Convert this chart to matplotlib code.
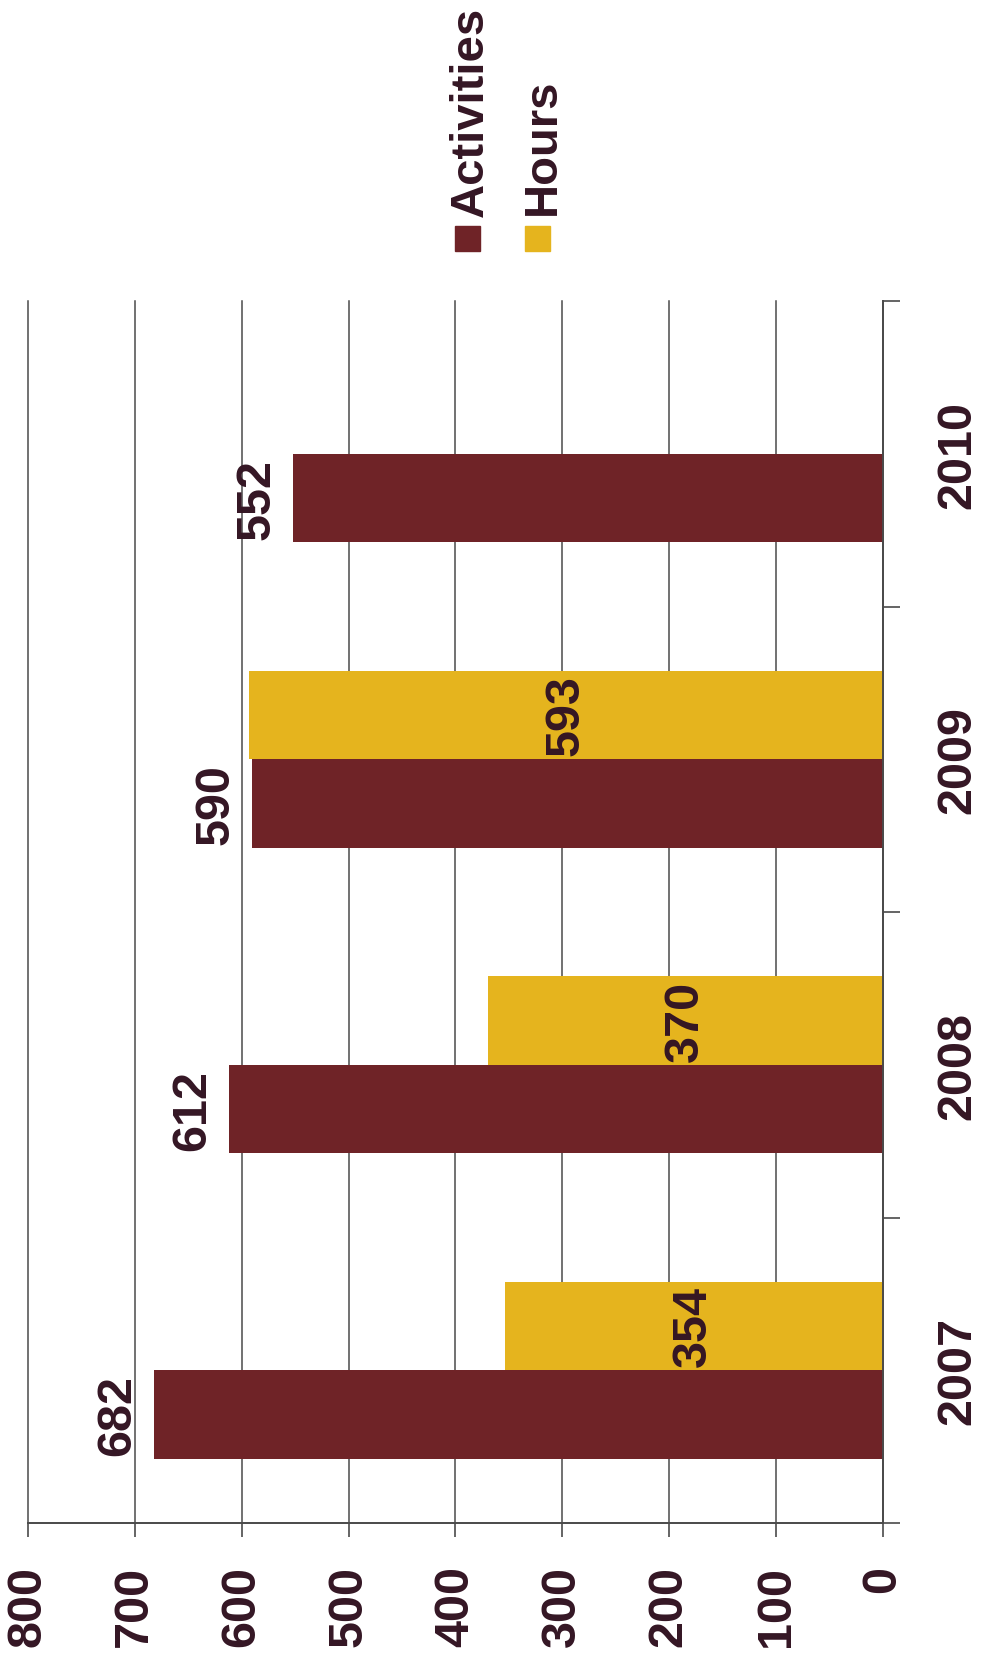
import numpy as np
import matplotlib
matplotlib.use("Agg")
import matplotlib.pyplot as plt
from matplotlib.patches import Rectangle

plt.rcParams['font.family'] = ['Liberation Sans', 'DejaVu Sans']

years = ['2007', '2008', '2009', '2010']
activities = [682, 612, 590, 552]
hours = [354, 370, 593, None]
value_ticks = [0, 100, 200, 300, 400, 500, 600, 700, 800]

MAROON = '#6f2327'
YELLOW = '#e5b41e'
TXT = '#341624'
LINE = '#4a4a4a'

W, H = 982, 1656
fig = plt.figure(figsize=(W / 100, H / 100), dpi=100)
fig.patch.set_facecolor('white')
ax = fig.add_axes([28 / W, 1 - 1524 / H, 855 / W, 1222 / H])

y = np.arange(len(years))
bh = 0.29
ax.barh(y - bh / 2, activities, height=bh, color=MAROON, zorder=2)
hy = [i for i, h in enumerate(hours) if h is not None]
hv = [hours[i] for i in hy]
ax.barh(np.array(hy) + bh / 2, hv, height=bh, color=YELLOW, zorder=2)

ax.set_xlim(800, 0)
ax.set_ylim(-0.5, 3.5)

ax.set_xticks(value_ticks)
ax.set_xticklabels([str(v) for v in value_ticks], rotation=90,
                   fontsize=35, fontweight='bold', color=TXT)
ax.tick_params(axis='x', direction='out', length=10, width=1.2, pad=20, color=LINE)

ax.yaxis.tick_right()
ax.set_yticks([-0.5, 0.5, 1.5, 2.5, 3.5])
ax.set_yticklabels([])
ax.set_yticks(y, minor=True)
ax.set_yticklabels(years, minor=True, rotation=90, fontsize=35,
                   fontweight='bold', color=TXT)
for lab in ax.get_yticklabels(minor=True):
    lab.set_va('center')
ax.tick_params(axis='y', which='major', direction='out', length=12, width=1.2, color=LINE)
ax.tick_params(axis='y', which='minor', length=0, pad=38)

ax.grid(axis='x', color=LINE, linewidth=1.1, zorder=0)
ax.set_axisbelow(True)
for gl in ax.xaxis.get_gridlines():
    gl.set_clip_on(False)

for side in ['top', 'left']:
    ax.spines[side].set_visible(False)
for side in ['bottom', 'right']:
    ax.spines[side].set_color(LINE)
    ax.spines[side].set_linewidth(1.4)

for i, v in enumerate(activities):
    ax.annotate(str(v), xy=(v, i - bh / 2), xytext=(-10, 0),
                textcoords='offset points', rotation=90, ha='right', va='center',
                fontsize=35, fontweight='bold', color=TXT, zorder=3)
for i, h in zip(hy, hv):
    ax.text(h / 2, i + bh / 2, str(h), rotation=90, ha='center', va='center',
            fontsize=35, fontweight='bold', color=TXT, zorder=3)

# legend
fig.add_artist(Rectangle((455 / W, 1 - 252 / H), 25 / W, 25 / H,
                         transform=fig.transFigure, color=MAROON))
fig.add_artist(Rectangle((525 / W, 1 - 252 / H), 25 / W, 25 / H,
                         transform=fig.transFigure, color=YELLOW))
fig.text(483 / W, 1 - 217 / H, 'Activities', rotation=90, rotation_mode='anchor',
         ha='left', va='baseline', fontsize=34, fontweight='bold', color=TXT)
fig.text(555 / W, 1 - 215 / H, 'Hours', rotation=90, rotation_mode='anchor',
         ha='left', va='baseline', fontsize=34, fontweight='bold', color=TXT)

fig.savefig('out.png', dpi=100, facecolor='white')
